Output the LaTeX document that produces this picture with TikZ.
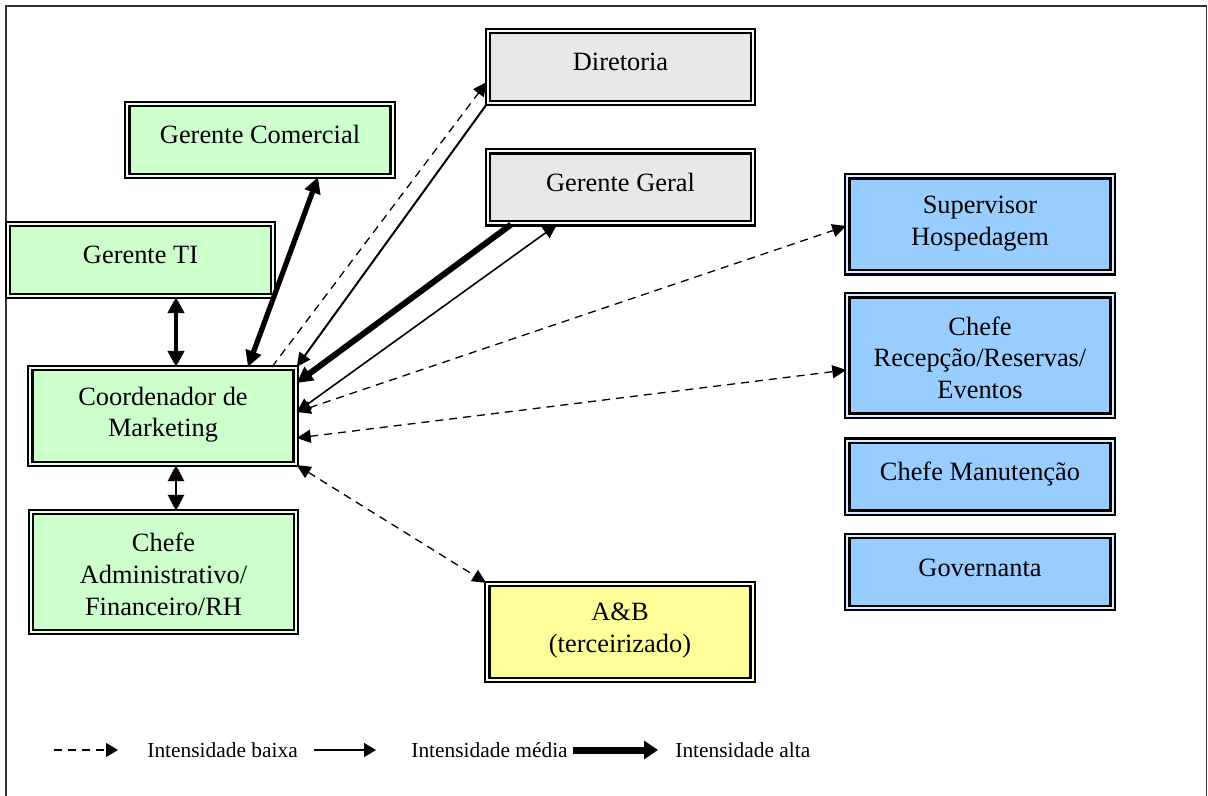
\documentclass[tikz,border=0pt]{standalone}
\usepackage{fontspec}
\setmainfont{Liberation Serif}
\usetikzlibrary{arrows.meta}

\definecolor{boxgreen}{HTML}{CCFFCC}
\definecolor{boxgray}{HTML}{E8E8E8}
\definecolor{boxblue}{HTML}{99CCFF}
\definecolor{boxyellow}{HTML}{FFFF99}

\newcommand{\boxfont}{\fontsize{13.2pt}{15.8pt}\selectfont}
\newcommand{\keyfont}{\fontsize{10.7pt}{12pt}\selectfont}

\begin{document}
\begin{tikzpicture}
    [ x = .5pt, y = -.5pt
    , box/.style =
      { draw, line width=1.1pt, double=#1!35, double distance=1pt
      , fill=#1, inner sep=0pt, align=center, font=\boxfont
      , minimum width=132.6pt, minimum height=36pt }
    , oneline/.style =
      { text height=6pt, text depth=2pt }
    , twolines/.style =
      { minimum height=48pt, text depth=4pt }
    , threelines/.style =
      { minimum height=60pt, text height=43pt, text depth=0pt }
    , key/.style =
      { font=\keyfont, inner sep=0pt, anchor=west }
    , >={Triangle[length=7pt,width=6.5pt]}
    , low/.style =
      { line width=.65pt, dash pattern=on 4pt off 3pt }
    , mid/.style =
      { line width=.8pt }
    , high/.style =
      { line width=2.6pt, >={Triangle[length=8pt,width=8pt]} }
    ]
    \useasboundingbox (0,0) rectangle (1208,796);
    \draw [line width=.9pt, black!80] (6,796) -- (6,6) -- (1206.5,6) -- (1206.5,796);

    % marketing side
    \node [box=boxgreen, oneline] (com) at (260,140) {Gerente Comercial};
    \node [box=boxgreen, oneline] (ti) at (140.5,260) {Gerente TI};
    \node [box=boxgreen, twolines] (mkt) at (163,416) {Coordenador de\\Marketing};
    \node [box=boxgreen, threelines] (adm) at (163.5,572) {Chefe\\Administrativo/\\Financeiro/RH};

    % direction
    \node [box=boxgray, oneline] (dir) at (620.5,67) {Diretoria};
    \node [box=boxgray, oneline] (geral) at (620.5,187.5) {Gerente Geral};
    \node [box=boxyellow, twolines] (ab) at (620,632) {A\&B\\(terceirizado)};

    % operations
    \node [box=boxblue, twolines] (hosp) at (980,224.5) {Supervisor\\Hospedagem};
    \node [box=boxblue, threelines] (rec) at (980,355.5) {Chefe\\Recepção/Reservas/\\Eventos};
    \node [box=boxblue, oneline] (man) at (980,476.5) {Chefe Manutenção};
    \node [box=boxblue, oneline] (gov) at (980,572) {Governanta};

    \draw [high, line width=2pt, <->] ([shift={(35.5,0)}]ti.south) -- ([shift={(13,0)}]mkt.north);
    \draw [high, line width=1.2pt, <->] ([shift={(13,0)}]mkt.south) -- ([shift={(12.5,0)}]adm.north);
    \draw [high, <->] ([shift={(58,0)}]com.south) -- ([shift={(85,0)}]mkt.north);
    \draw [low, ->] ([shift={(109,0)}]mkt.north) -- ([shift={(0,15)}]dir.west);
    \draw [mid, line width=1pt, ->] (dir.south west) -- (mkt.north east);
    \draw [high, line width=3pt, ->] ([shift={(-109.5,0)}]geral.south) -- ([shift={(0,-33)}]mkt.east);
    \draw [mid, <->] ([shift={(0,-4)}]mkt.east) -- ([shift={(-63.5,0)}]geral.south);
    \draw [low, <->] ([shift={(0,-4)}]mkt.east) -- ([shift={(0,1.5)}]hosp.west);
    \draw [low, <->] ([shift={(0,22)}]mkt.east) -- ([shift={(0,14.5)}]rec.west);
    \draw [low, <->] (mkt.south east) -- (ab.north west);

    % key
    \coordinate (lowA) at (54,750);
    \coordinate (lowB) at (118,750);
    \coordinate (midA) at (314,750);
    \coordinate (midB) at (376,750);
    \coordinate (highA) at (573,750);
    \coordinate (highB) at (658,750);
    \node [key] (lowtxt) at (147,750) {Intensidade baixa};
    \node [key] (midtxt) at (411,750) {Intensidade média};
    \node [key] (hightxt) at (675,750) {Intensidade alta};
    \draw [low, ->, >={Triangle[length=6pt,width=7pt]}] (lowA) -- (lowB);
    \draw [mid, ->, >={Triangle[length=6pt,width=7pt]}] (midA) -- (midB);
    \draw [high, line width=3.5pt, ->, >={Triangle[length=7pt,width=9pt]}] (highA) -- (highB);
\end{tikzpicture}
\end{document}
